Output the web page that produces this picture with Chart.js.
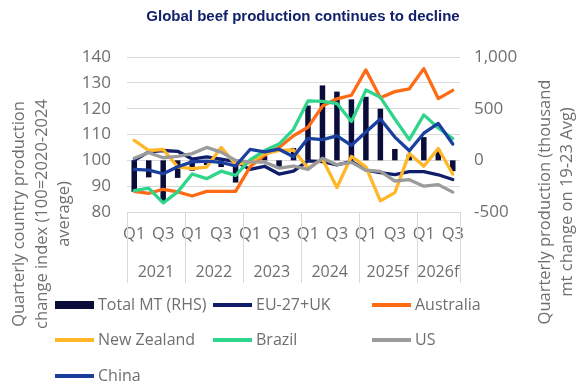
<!DOCTYPE html>
<html><head><meta charset="utf-8">
<script src="https://cdn.jsdelivr.net/npm/chart.js@4.4.1/dist/chart.umd.min.js"></script>
<style>html,body{margin:0;padding:0;background:#fff}#wrap{width:586px;height:392px;position:relative}</style>
</head><body><div id="wrap"><canvas id="c" width="586" height="392"></canvas></div>
<script>
// ---- data ----
const titleText = 'Global beef production continues to decline';
const years = ['2021','2022','2023','2024','2025f','2026f'];
const quarters = ['Q1','Q2','Q3','Q4'];
const quarterCounts = [4,4,4,4,4,3];
const totalMT = [-305,-165,-400,-170,-100,-45,-65,-215,-15,40,-80,120,530,725,665,590,615,500,110,55,225,105,-105];
const euUK = [100,103.3,103.8,103.5,100.5,101.3,100.5,99.5,96.5,97.7,94.7,95.8,99.8,99.5,98.2,99.6,96.2,95.2,94.5,95.6,95.6,94.4,92.6];
const australia = [88,87.2,88.8,87.8,86.2,88,88,88,97.5,102,105,109.5,112.8,121,123.8,125.2,135,124.2,126.6,127.7,135.5,123.9,127.1];
const newZealand = [107.7,103.8,104.2,97.5,96.8,97.4,105,98.5,99,102.5,103.8,104,97,100.5,89.5,101.5,97.5,84.3,87.5,102.7,97.7,104.6,94.7];
const brazil = [88.3,89.2,83.5,87.8,94.7,92.9,95.8,94.2,100.2,103.8,106.3,112,123,122.8,122,115,127.2,124.4,116,108,117.6,112.5,108.4];
const us = [100.8,103,101,101.5,102.6,105,103.2,100,99.4,99.3,97,97.8,96.5,100.8,98.3,99.2,96.2,95.7,92,92.5,90,90.6,87.7];
const china = [96.5,96.2,94.8,97.5,99.4,99.7,99.2,97.8,104.2,103.3,104.3,101.4,108.5,108,109.5,105.8,111,116,109,103.7,110.5,114.3,106.3];
const leftAxisTitle = ['Quarterly country production','change index (100=2020-2024','average)'];
const rightAxisTitle = ['Quarterly production (thousand','mt change on 19-23 Avg)'];

// ---- build ----
const labels = [];
years.forEach((y,k)=>{ quarters.slice(0,quarterCounts[k]).forEach(q=>labels.push(q)); });

const FONT = "'Open Sans', sans-serif";
const TXT = '#6f6f6f';
const lineDS = (label, data, color, order) => ({
  type:'line', label, data, borderColor:color, backgroundColor:color, borderWidth:3.3,
  pointRadius:0, tension:0, yAxisID:'y', order, borderJoinStyle:'round', borderCapStyle:'round'
});
const datasets = [
  {type:'bar', label:'Total MT (RHS)', data: totalMT, backgroundColor:'#0a0c3a', yAxisID:'y2', order:10,
   barPercentage:0.38, categoryPercentage:1},
  lineDS('EU-27+UK', euUK, '#101d6b', 6),
  lineDS('Australia', australia, '#ff6a14', 5),
  lineDS('New Zealand', newZealand, '#ffb627', 4),
  lineDS('Brazil', brazil, '#2fd58a', 3),
  lineDS('US', us, '#9b9b9b', 2),
  lineDS('China', china, '#1a3f9e', 1)
];

const decor = {
  id:'decor',
  afterDraw(chart){
    const {ctx, chartArea:a} = chart;
    const x = chart.scales.x;
    ctx.save();
    // title
    ctx.fillStyle = '#13206b';
    ctx.font = "bold 15px 'Liberation Sans', Arial, sans-serif";
    ctx.textAlign = 'center'; ctx.textBaseline = 'middle';
    ctx.fillText(titleText, 303, 17);
    // year separators and labels
    const half = (x.getPixelForValue(1) - x.getPixelForValue(0))/2;
    ctx.strokeStyle = '#d9d9d9'; ctx.lineWidth = 1;
    ctx.fillStyle = TXT; ctx.font = '16px ' + FONT;
    let idx = 0;
    years.forEach((yr,k)=>{
      const n = quarterCounts[k];
      const x0 = x.getPixelForValue(idx) - half;
      const x1 = x.getPixelForValue(idx+n-1) + half;
      const px = [x0]; if (k === years.length-1) px.push(x1);
      px.forEach(p=>{ const r = Math.round(p)+0.5; ctx.beginPath(); ctx.moveTo(r, a.bottom); ctx.lineTo(r, 283); ctx.stroke(); });
      ctx.fillText(yr, (x0+x1)/2, 272);
      idx += n;
    });
    // axis titles
    ctx.fillStyle = TXT; ctx.font = '16.5px ' + FONT;
    const drawRot = (lines, xs, cy) => {
      lines.forEach((t,i)=>{
        ctx.save(); ctx.translate(xs[i], cy); ctx.rotate(-Math.PI/2);
        ctx.textAlign = 'center'; ctx.textBaseline = 'middle';
        ctx.fillText(t, 0, 0); ctx.restore();
      });
    };
    drawRot(leftAxisTitle, [19, 42, 64], 214);
    drawRot(rightAxisTitle, [545, 567], 202);
    // legend
    const cols = [55, 213, 372], rows = [305, 340, 376];
    ctx.font = '16px ' + FONT;
    ctx.textAlign = 'left'; ctx.textBaseline = 'middle';
    chart.data.datasets.forEach((d,i)=>{
      const cx = cols[i%3], cy = rows[Math.floor(i/3)];
      ctx.fillStyle = d.type === 'bar' ? d.backgroundColor : d.borderColor;
      if (d.type === 'bar') ctx.fillRect(cx, cy-4, 39, 8);
      else ctx.fillRect(cx, cy-2, 39, 4);
      ctx.fillStyle = TXT;
      ctx.fillText(d.label, cx+43, cy);
    });
    ctx.restore();
  }
};

new Chart(document.getElementById('c'), {
  data:{labels, datasets},
  options:{
    responsive:false, animation:false, devicePixelRatio:1,
    layout:{padding:{top:57, bottom:140, left:0, right:0}},
    plugins:{legend:{display:false}, title:{display:false}, tooltip:{enabled:false}},
    scales:{
      x:{
        offset:true,
        grid:{display:false, drawTicks:false},
        border:{display:false},
        ticks:{autoSkip:false, maxRotation:0, padding:12, color:TXT, font:{family:FONT, size:16.5},
          callback:(v,i)=> (i%2===0 ? labels[i] : '')},
        afterFit:(s)=>{ s.height = 40; }
      },
      y:{
        position:'left', min:80, max:140,
        ticks:{stepSize:10, padding:16, color:TXT, font:{family:FONT, size:17}},
        grid:{color:'#d9d9d9', drawTicks:false},
        border:{display:false},
        afterFit:(s)=>{ s.width = 127; }
      },
      y2:{
        position:'right', min:-500, max:1000,
        ticks:{stepSize:500, padding:14, color:TXT, font:{family:FONT, size:17}},
        grid:{display:false, drawTicks:false},
        border:{display:false},
        afterFit:(s)=>{ s.width = 126; }
      }
    }
  },
  plugins:[decor]
});
</script></body></html>
